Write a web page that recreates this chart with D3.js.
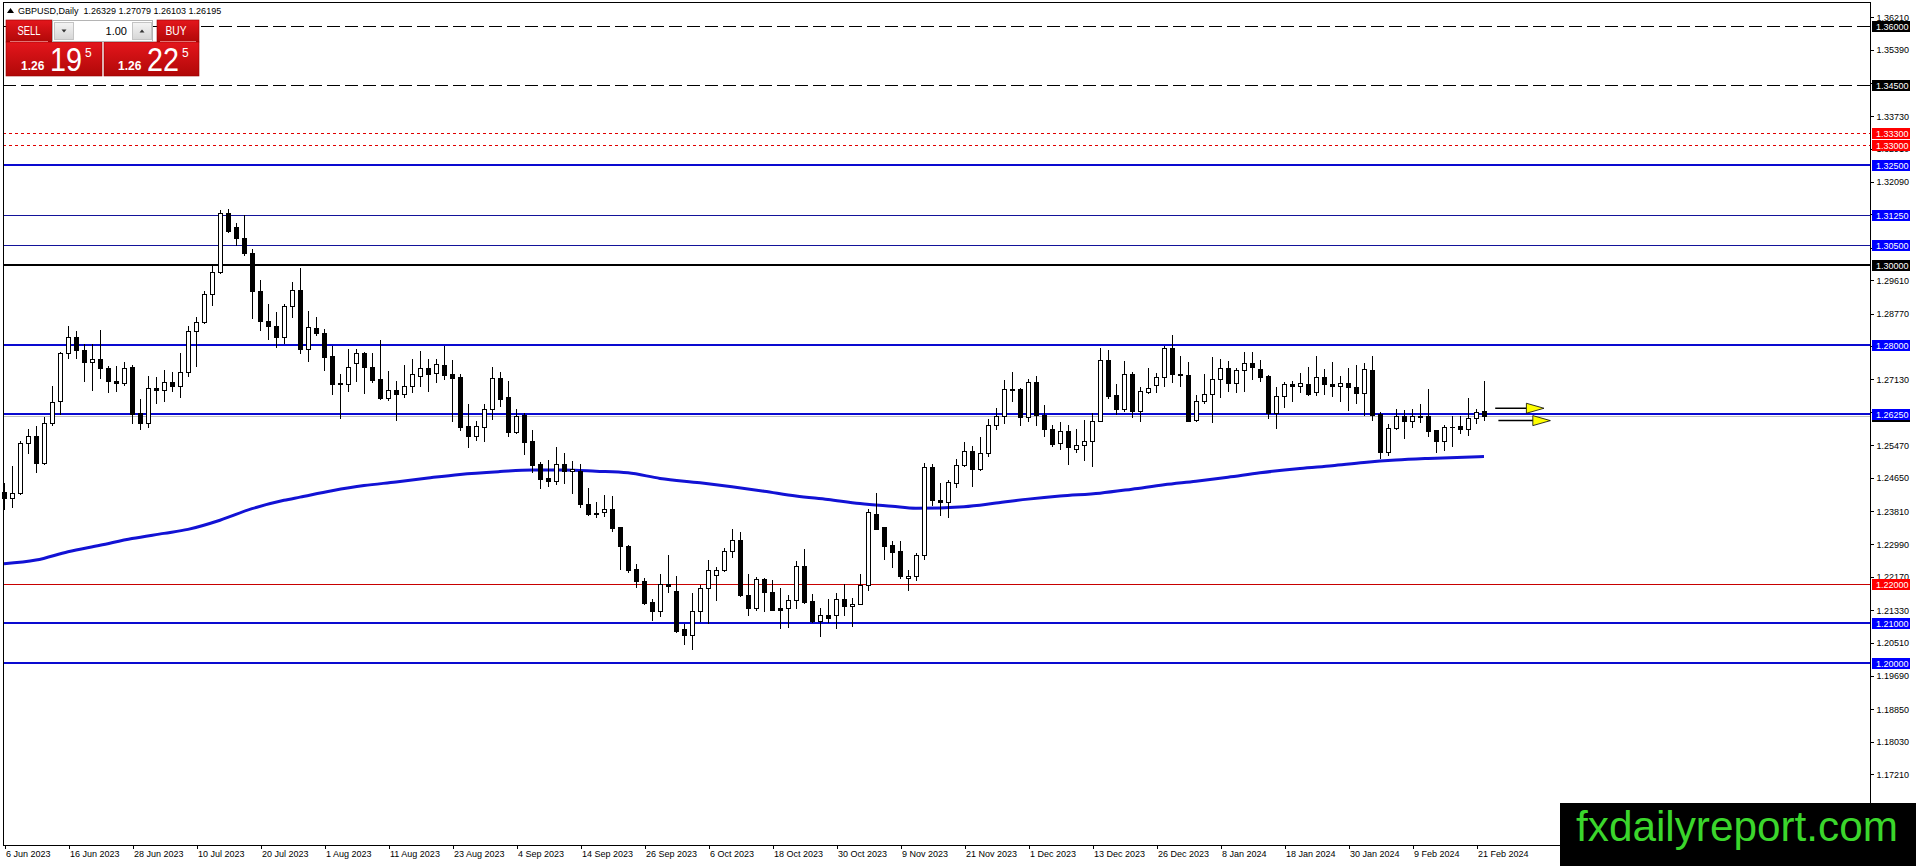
<!DOCTYPE html>
<html>
<head>
<meta charset="utf-8">
<title>GBPUSD Daily</title>
<script src="https://cdn.jsdelivr.net/npm/d3@7"></script>
<style>
    html, body { margin: 0; padding: 0; background: #fff; overflow: hidden; }
</style>
</head>
<body>
<div id="chart"></div>
<script>
// daily bars, 6 Jun 2023 .. 22 Feb 2024
const opens = [
    1.2430, 1.2416, 1.2428, 1.2552, 1.2571, 1.2503, 1.2604, 1.2657, 1.2778, 1.2818,
    1.2786, 1.2757, 1.2763, 1.2740, 1.2708, 1.2704, 1.2743, 1.2627, 1.2604, 1.2690,
    1.2685, 1.2707, 1.2697, 1.2732, 1.2833, 1.2856, 1.2926, 1.2981, 1.3129, 1.3094,
    1.3067, 1.3029, 1.2933, 1.2860, 1.2846, 1.2818, 1.2897, 1.2937, 1.2788, 1.2841,
    1.2828, 1.2771, 1.2701, 1.2702, 1.2753, 1.2778, 1.2743, 1.2713, 1.2666, 1.2687,
    1.2677, 1.2697, 1.2722, 1.2741, 1.2728, 1.2749, 1.2726, 1.2718, 1.2595, 1.2571,
    1.2594, 1.2637, 1.2715, 1.2668, 1.2581, 1.2622, 1.2557, 1.2499, 1.2465, 1.2458,
    1.2501, 1.2483, 1.2483, 1.2401, 1.2376, 1.2380, 1.2388, 1.2341, 1.2295, 1.2237,
    1.2207, 1.2155, 1.2130, 1.2198, 1.2182, 1.2085, 1.2070, 1.2131, 1.2189, 1.2221,
    1.2234, 1.2283, 1.2310, 1.2172, 1.2139, 1.2212, 1.2180, 1.2138, 1.2139, 1.2158,
    1.2244, 1.2156, 1.2106, 1.2120, 1.2120, 1.2161, 1.2143, 1.2149, 1.2197, 1.2375,
    1.2341, 1.2296, 1.2281, 1.2214, 1.2218, 1.2272, 1.2492, 1.2410, 1.2405, 1.2452,
    1.2497, 1.2532, 1.2487, 1.2527, 1.2597, 1.2621, 1.2688, 1.2688, 1.2618, 1.2706,
    1.2624, 1.2588, 1.2552, 1.2584, 1.2537, 1.2548, 1.2557, 1.2609, 1.2760, 1.2674,
    1.2639, 1.2726, 1.2632, 1.2682, 1.2699, 1.2718, 1.2791, 1.2726, 1.2723, 1.2611,
    1.2657, 1.2676, 1.2713, 1.2740, 1.2703, 1.2736, 1.2753, 1.2738, 1.2721, 1.2629,
    1.2671, 1.2700, 1.2696, 1.2700, 1.2682, 1.2718, 1.2700, 1.2696, 1.2703, 1.2693,
    1.2679, 1.2736, 1.2625, 1.2529, 1.2590, 1.2621, 1.2609, 1.2617, 1.2621, 1.2585,
    1.2559, 1.2593, 1.2596, 1.2587, 1.2615, 1.26329
];
const highs = [
    1.2453, 1.2496, 1.2558, 1.2587, 1.2595, 1.2619, 1.2696, 1.2780, 1.2846, 1.2833,
    1.2801, 1.2801, 1.2836, 1.2746, 1.2746, 1.2755, 1.2748, 1.2662, 1.2722, 1.2719,
    1.2736, 1.2731, 1.2778, 1.2846, 1.2868, 1.2933, 1.2997, 1.3138, 1.3139, 1.3106,
    1.3125, 1.3039, 1.2962, 1.2901, 1.2881, 1.2902, 1.2958, 1.2991, 1.2884, 1.2868,
    1.2838, 1.2796, 1.2726, 1.2789, 1.2788, 1.2781, 1.2778, 1.2811, 1.2734, 1.2709,
    1.2748, 1.2763, 1.2784, 1.2763, 1.2763, 1.2797, 1.2761, 1.2726, 1.2650, 1.2608,
    1.2650, 1.2744, 1.2730, 1.2708, 1.2637, 1.2627, 1.2585, 1.2506, 1.2510, 1.2543,
    1.2528, 1.2507, 1.2501, 1.2441, 1.2405, 1.2423, 1.2420, 1.2343, 1.2296, 1.2250,
    1.2214, 1.2162, 1.2225, 1.2271, 1.2220, 1.2098, 1.2177, 1.2196, 1.2260, 1.2242,
    1.2290, 1.2338, 1.2330, 1.2225, 1.2217, 1.2215, 1.2208, 1.2190, 1.2171, 1.2257,
    1.2288, 1.2175, 1.2139, 1.2161, 1.2176, 1.2198, 1.2164, 1.2225, 1.2387, 1.2428,
    1.2342, 1.2307, 1.2306, 1.2234, 1.2278, 1.2502, 1.2501, 1.2452, 1.2460, 1.2512,
    1.2555, 1.2546, 1.2569, 1.2613, 1.2640, 1.2711, 1.2731, 1.2690, 1.2713, 1.2721,
    1.2649, 1.2598, 1.2606, 1.2598, 1.2588, 1.2611, 1.2629, 1.2791, 1.2785, 1.2701,
    1.2759, 1.2731, 1.2693, 1.2741, 1.2728, 1.2797, 1.2824, 1.2770, 1.2756, 1.2674,
    1.2726, 1.2768, 1.2763, 1.2759, 1.2740, 1.2780, 1.2782, 1.2761, 1.2724, 1.2693,
    1.2707, 1.2709, 1.2728, 1.2743, 1.2771, 1.2738, 1.2755, 1.2722, 1.2740, 1.2749,
    1.2754, 1.2770, 1.2631, 1.2601, 1.2638, 1.2636, 1.2637, 1.2651, 1.2688, 1.2586,
    1.2598, 1.2621, 1.2621, 1.2665, 1.2638, 1.27079
];
const lows = [
    1.2386, 1.2391, 1.2425, 1.2528, 1.2481, 1.2501, 1.2597, 1.2625, 1.2765, 1.2765,
    1.2709, 1.2687, 1.2715, 1.2681, 1.2683, 1.2698, 1.2602, 1.2587, 1.2593, 1.2654,
    1.2658, 1.2683, 1.2669, 1.2721, 1.2746, 1.2853, 1.2899, 1.2979, 1.3083, 1.3050,
    1.3025, 1.2866, 1.2836, 1.2813, 1.2793, 1.2805, 1.2870, 1.2778, 1.2759, 1.2824,
    1.2736, 1.2676, 1.2616, 1.2684, 1.2709, 1.2679, 1.2707, 1.2663, 1.2660, 1.2610,
    1.2669, 1.2681, 1.2696, 1.2684, 1.2707, 1.2713, 1.2609, 1.2585, 1.2543, 1.2560,
    1.2558, 1.2614, 1.2645, 1.2571, 1.2578, 1.2524, 1.2480, 1.2440, 1.2444, 1.2451,
    1.2453, 1.2428, 1.2391, 1.2372, 1.2367, 1.2370, 1.2331, 1.2236, 1.2229, 1.2192,
    1.2148, 1.2108, 1.2118, 1.2179, 1.2078, 1.2049, 1.2035, 1.2105, 1.2102, 1.2160,
    1.2231, 1.2267, 1.2168, 1.2120, 1.2133, 1.2130, 1.2134, 1.2088, 1.2091, 1.2140,
    1.2151, 1.2104, 1.2068, 1.2104, 1.2088, 1.2120, 1.2093, 1.2148, 1.2183, 1.2336,
    1.2261, 1.2242, 1.2213, 1.2184, 1.2209, 1.2261, 1.2398, 1.2371, 1.2368, 1.2442,
    1.2494, 1.2444, 1.2485, 1.2519, 1.2587, 1.2603, 1.2659, 1.2599, 1.2609, 1.2599,
    1.2571, 1.2546, 1.2537, 1.2500, 1.2529, 1.2509, 1.2496, 1.2607, 1.2665, 1.2626,
    1.2634, 1.2619, 1.2607, 1.2678, 1.2680, 1.2695, 1.2707, 1.2696, 1.2607, 1.2609,
    1.2652, 1.2606, 1.2669, 1.2684, 1.2682, 1.2684, 1.2713, 1.2709, 1.2615, 1.2591,
    1.2644, 1.2657, 1.2682, 1.2673, 1.2673, 1.2676, 1.2671, 1.2657, 1.2636, 1.2654,
    1.2623, 1.2611, 1.2514, 1.2523, 1.2588, 1.2565, 1.2594, 1.2606, 1.2570, 1.2531,
    1.2535, 1.2545, 1.2579, 1.2573, 1.2602, 1.26103
];
const closes = [
    1.2416, 1.2428, 1.2552, 1.2571, 1.2503, 1.2604, 1.2655, 1.2778, 1.2818, 1.2786,
    1.2757, 1.2763, 1.2740, 1.2709, 1.2704, 1.2740, 1.2625, 1.2604, 1.2690, 1.2685,
    1.2707, 1.2697, 1.2732, 1.2833, 1.2856, 1.2926, 1.2981, 1.3129, 1.3086, 1.3067,
    1.3029, 1.2933, 1.2860, 1.2847, 1.2818, 1.2897, 1.2937, 1.2788, 1.2843, 1.2828,
    1.2769, 1.2702, 1.2704, 1.2743, 1.2778, 1.2743, 1.2711, 1.2666, 1.2687, 1.2676,
    1.2697, 1.2726, 1.2741, 1.2726, 1.2750, 1.2723, 1.2717, 1.2594, 1.2570, 1.2595,
    1.2637, 1.2715, 1.2664, 1.2580, 1.2620, 1.2556, 1.2497, 1.2463, 1.2458, 1.2501,
    1.2483, 1.2487, 1.2399, 1.2374, 1.2374, 1.2388, 1.2340, 1.2294, 1.2233, 1.2206,
    1.2152, 1.2130, 1.2198, 1.2193, 1.2080, 1.2070, 1.2131, 1.2189, 1.2234, 1.2234,
    1.2283, 1.2310, 1.2171, 1.2139, 1.2212, 1.2179, 1.2135, 1.2135, 1.2158, 1.2244,
    1.2154, 1.2105, 1.2120, 1.2114, 1.2161, 1.2143, 1.2149, 1.2197, 1.2380, 1.2338,
    1.2294, 1.2279, 1.2218, 1.2219, 1.2272, 1.2492, 1.2409, 1.2405, 1.2455, 1.2497,
    1.2532, 1.2487, 1.2527, 1.2597, 1.2621, 1.2688, 1.2686, 1.2618, 1.2706, 1.2624,
    1.2588, 1.2551, 1.2584, 1.2542, 1.2548, 1.2557, 1.2609, 1.2760, 1.2671, 1.2639,
    1.2726, 1.2632, 1.2684, 1.2690, 1.2718, 1.2791, 1.2726, 1.2723, 1.2609, 1.2657,
    1.2676, 1.2713, 1.2740, 1.2703, 1.2736, 1.2753, 1.2744, 1.2719, 1.2629, 1.2671,
    1.2700, 1.2697, 1.2703, 1.2677, 1.2718, 1.2700, 1.2696, 1.2703, 1.2693, 1.2679,
    1.2738, 1.2623, 1.2529, 1.2590, 1.2621, 1.2609, 1.2621, 1.2621, 1.2584, 1.2559,
    1.2592, 1.2592, 1.2587, 1.2615, 1.2630, 1.26195
];

// moving average, sampled along the blue curve (bar index, price)
const maBars = [0, 4, 8, 12, 16, 20, 23, 27, 31, 35, 37, 41, 45, 49, 53, 57, 62, 66, 70, 74,
    78, 82, 87, 91, 95, 99, 103, 107, 111, 114, 120, 124, 128, 132, 137, 141, 145, 149, 153,
    157, 162, 166, 170, 174, 178, 185];
const maValues = [1.2250, 1.2259, 1.2280, 1.2296, 1.2313, 1.2326, 1.2336, 1.2359, 1.2388, 1.2409,
    1.2417, 1.2433, 1.2446, 1.2455, 1.2465, 1.2474, 1.2481, 1.2485, 1.2485, 1.2482,
    1.2478, 1.2464, 1.2453, 1.2443, 1.2432, 1.2420, 1.2411, 1.2401, 1.2394, 1.2389,
    1.2393, 1.2402, 1.2412, 1.2420, 1.2427, 1.2437, 1.2448, 1.2457, 1.2467,
    1.2478, 1.2489, 1.2496, 1.2504, 1.2510, 1.2514, 1.2519];

// one date label every 8 bars
const dateLabels = ['6 Jun 2023', '16 Jun 2023', '28 Jun 2023', '10 Jul 2023', '20 Jul 2023',
    '1 Aug 2023', '11 Aug 2023', '23 Aug 2023', '4 Sep 2023', '14 Sep 2023', '26 Sep 2023',
    '6 Oct 2023', '18 Oct 2023', '30 Oct 2023', '9 Nov 2023', '21 Nov 2023', '1 Dec 2023',
    '13 Dec 2023', '26 Dec 2023', '8 Jan 2024', '18 Jan 2024', '30 Jan 2024', '9 Feb 2024',
    '21 Feb 2024'];
const labelStep = 8;

const priceTicks = [1.36210, 1.35390, 1.34570, 1.33730, 1.32910, 1.32090, 1.31270, 1.30430,
    1.29610, 1.28770, 1.27950, 1.27130, 1.26310, 1.25470, 1.24650, 1.23810, 1.22990, 1.22170,
    1.21330, 1.20510, 1.19690, 1.18850, 1.18030, 1.17210];

// horizontal levels drawn on the chart
const levelPrices = [1.36, 1.345, 1.333, 1.33, 1.325, 1.3125, 1.305, 1.30, 1.28, 1.2625, 1.22, 1.21, 1.20];
const levelKinds = ['dash', 'dash', 'dot', 'dot', 'blue', 'blueThin', 'blueThin', 'black', 'blue', 'blue', 'red', 'blue', 'blue'];

const bidPrice = 1.26195;
const sellQuote = ['1.26', '19', '5'];
const buyQuote = ['1.26', '22', '5'];
const arrowPrices = [1.2640, 1.2609];

const width = 1916;
const height = 866;
const plotLeft = 3;
const plotRight = 1870;
const plotTop = 2;
const plotBottom = 845;
const font = '"Liberation Sans", Arial, sans-serif';

const levelStyle = {
    dash: { stroke: '#000000', width: 1, dash: '13,5', box: '#000000' },
    dot: { stroke: '#e00000', width: 1, dash: '3,3', box: '#ff0000' },
    blue: { stroke: '#0a0ad0', width: 2, dash: null, box: '#0000ff' },
    blueThin: { stroke: '#13139a', width: 1, dash: null, box: '#0000ff' },
    black: { stroke: '#000000', width: 2, dash: null, box: '#000000' },
    red: { stroke: '#c80000', width: 1, dash: null, box: '#ff0000' }
};

const x = d3.scaleLinear().domain([0, 185]).range([4, 4 + 8 * 185]);
const y = d3.scaleLinear().domain([1.20, 1.36]).range([663.3, 25.7]);

const svg = d3.select('#chart').append('svg')
    .attr('width', width)
    .attr('height', height)
    .style('display', 'block')
    .style('font-family', font);

svg.append('rect')
    .attr('width', width)
    .attr('height', height)
    .attr('fill', '#ffffff');

const defs = svg.append('defs');
const redGrad = defs.append('linearGradient')
    .attr('id', 'red-grad')
    .attr('x1', 0).attr('y1', 0).attr('x2', 0).attr('y2', 1);
redGrad.append('stop').attr('offset', '0%').attr('stop-color', '#e4161c');
redGrad.append('stop').attr('offset', '100%').attr('stop-color', '#b00808');
const greyGrad = defs.append('linearGradient')
    .attr('id', 'grey-grad')
    .attr('x1', 0).attr('y1', 0).attr('x2', 0).attr('y2', 1);
greyGrad.append('stop').attr('offset', '0%').attr('stop-color', '#f4f4f4');
greyGrad.append('stop').attr('offset', '100%').attr('stop-color', '#d6d6d6');


// LEVEL LINES
const levelGroup = svg.append('g').attr('shape-rendering', 'crispEdges');

function levelY(price, lineWidth) {
    const py = Math.round(y(price));
    return lineWidth % 2 === 1 ? py + 0.5 : py;
}

levelPrices.forEach((p, idx) => {
    const st = levelStyle[levelKinds[idx]];
    levelGroup.append('line')
        .attr('x1', plotLeft)
        .attr('x2', plotRight)
        .attr('y1', levelY(p, st.width))
        .attr('y2', levelY(p, st.width))
        .attr('stroke', st.stroke)
        .attr('stroke-width', st.width)
        .attr('stroke-dasharray', st.dash);
});

// bid line
levelGroup.append('line')
    .attr('x1', plotLeft)
    .attr('x2', plotRight)
    .attr('y1', levelY(bidPrice, 1))
    .attr('y2', levelY(bidPrice, 1))
    .attr('stroke', '#c0c0c0');


// MOVING AVERAGE
const maLine = d3.line()
    .x(d => x(d[0]))
    .y(d => y(d[1]))
    .curve(d3.curveMonotoneX);

svg.append('path')
    .datum(maBars.map((b, i) => [b, maValues[i]]))
    .attr('d', maLine)
    .attr('fill', 'none')
    .attr('stroke', '#1212d4')
    .attr('stroke-width', 3)
    .attr('stroke-linejoin', 'round');


// CANDLES
const bars = opens.map((o, i) => ({ i: i, o: o, h: highs[i], l: lows[i], c: closes[i] }));
const candleGroup = svg.append('g').attr('shape-rendering', 'crispEdges');

bars.forEach(d => {
    const cx = Math.round(x(d.i));
    const top = Math.round(y(d.h));
    const bottom = Math.round(y(d.l));
    candleGroup.append('line')
        .attr('x1', cx + 0.5).attr('x2', cx + 0.5)
        .attr('y1', top).attr('y2', bottom + 1)
        .attr('stroke', '#000');

    const bodyTop = Math.round(y(Math.max(d.o, d.c)));
    const bodyBottom = Math.round(y(Math.min(d.o, d.c)));
    if (bodyBottom - bodyTop < 1) {
        candleGroup.append('line')
            .attr('x1', cx - 2).attr('x2', cx + 3)
            .attr('y1', bodyTop + 0.5).attr('y2', bodyTop + 0.5)
            .attr('stroke', '#000');
    } else {
        candleGroup.append('rect')
            .attr('x', cx - 1.5)
            .attr('y', bodyTop + 0.5)
            .attr('width', 4)
            .attr('height', bodyBottom - bodyTop)
            .attr('fill', d.c >= d.o ? '#ffffff' : '#000000')
            .attr('stroke', '#000');
    }
});


// ARROWS next to the last bar
const arrowStart = [186.4, 186.8];
const arrowHead = [190.3, 191.1];
const arrowTip = [192.5, 193.3];
arrowPrices.forEach((p, k) => {
    const ay = y(p);
    svg.append('line')
        .attr('x1', x(arrowStart[k])).attr('x2', x(arrowHead[k]))
        .attr('y1', ay).attr('y2', ay)
        .attr('stroke', '#000')
        .attr('stroke-width', 1.5);
    svg.append('path')
        .attr('d', 'M' + x(arrowHead[k]) + ',' + (ay - 5) + 'L' + x(arrowTip[k]) + ',' + ay +
            'L' + x(arrowHead[k]) + ',' + (ay + 5) + 'Z')
        .attr('fill', '#ffff00')
        .attr('stroke', '#000')
        .attr('stroke-width', 0.8)
        .attr('stroke-linejoin', 'round');
});


// FRAME + AXES
const frame = svg.append('g').attr('shape-rendering', 'crispEdges');
frame.append('path')
    .attr('d', 'M' + (plotLeft + 0.5) + ',' + plotBottom + 'V' + (plotTop + 0.5) + 'H' + (plotRight + 0.5) +
        'V' + (plotBottom + 0.5) + 'H' + (plotLeft + 0.5) + 'Z')
    .attr('fill', 'none')
    .attr('stroke', '#000');

const rightAxis = d3.axisRight(y)
    .tickValues(priceTicks)
    .tickFormat(d3.format('.5f'))
    .tickSize(3)
    .tickPadding(3);

svg.append('g')
    .attr('transform', 'translate(' + (plotRight + 0.5) + ',0)')
    .call(rightAxis)
    .call(g => g.select('.domain').remove())
    .call(g => g.selectAll('line').attr('shape-rendering', 'crispEdges'))
    .call(g => g.selectAll('text')
        .attr('fill', '#000')
        .style('font-family', font)
        .style('font-size', '9px'));

const bottomAxis = d3.axisBottom(x)
    .tickValues(dateLabels.map((_, i) => i * labelStep))
    .tickFormat((_, i) => dateLabels[i])
    .tickSize(3)
    .tickPadding(2);

svg.append('g')
    .attr('transform', 'translate(0.5,' + (plotBottom + 0.5) + ')')
    .call(bottomAxis)
    .call(g => g.select('.domain').remove())
    .call(g => g.selectAll('line').attr('shape-rendering', 'crispEdges'))
    .call(g => g.selectAll('text')
        .attr('text-anchor', 'start')
        .attr('x', 1)
        .attr('fill', '#000')
        .style('font-family', font)
        .style('font-size', '9px'));


// PRICE LABELS on the right scale
function addPriceLabel(price, fill) {
    const py = Math.round(y(price));
    svg.append('rect')
        .attr('x', plotRight + 2)
        .attr('y', py - 5)
        .attr('width', 38)
        .attr('height', 11)
        .attr('fill', fill)
        .attr('shape-rendering', 'crispEdges');
    svg.append('text')
        .attr('x', plotRight + 6)
        .attr('y', py + 3.5)
        .attr('fill', '#fff')
        .style('font-size', '9px')
        .text(d3.format('.5f')(price));
}

addPriceLabel(bidPrice, '#000000');
levelPrices.forEach((p, idx) => addPriceLabel(p, levelStyle[levelKinds[idx]].box));


// TITLE
svg.append('path')
    .attr('d', 'M7,13L10.5,8L14,13Z')
    .attr('fill', '#000');
svg.append('text')
    .attr('x', 18)
    .attr('y', 14)
    .attr('fill', '#000')
    .style('font-size', '9px')
    .attr('xml:space', 'preserve')
    .text('GBPUSD,Daily  ' + [opens[185], highs[185], lows[185], closes[185]].map(d3.format('.5f')).join(' '));


// ONE-CLICK TRADING PANEL
const panel = svg.append('g');

function redBox(px, py, w, h) {
    panel.append('rect')
        .attr('x', px).attr('y', py)
        .attr('width', w).attr('height', h)
        .attr('fill', 'url(#red-grad)')
        .attr('stroke', '#9a0000')
        .attr('stroke-width', 0.6);
}

redBox(6, 20, 46, 22);
redBox(157, 20, 42, 22);
redBox(6, 42, 96, 34);
redBox(104, 42, 95, 34);

[[10, 48], [160, 196]].forEach(seg => {
    panel.append('line')
        .attr('x1', seg[0]).attr('x2', seg[1])
        .attr('y1', 41.5).attr('y2', 41.5)
        .attr('stroke', '#f09090')
        .attr('stroke-width', 0.8);
});

panel.append('text')
    .attr('x', 29).attr('y', 35)
    .attr('text-anchor', 'middle')
    .attr('fill', '#fff')
    .attr('textLength', 23)
    .attr('lengthAdjust', 'spacingAndGlyphs')
    .style('font-size', '12px')
    .text('SELL');
panel.append('text')
    .attr('x', 176).attr('y', 35)
    .attr('text-anchor', 'middle')
    .attr('fill', '#fff')
    .attr('textLength', 21)
    .attr('lengthAdjust', 'spacingAndGlyphs')
    .style('font-size', '12px')
    .text('BUY');

// lot size box
panel.append('rect')
    .attr('x', 52.5).attr('y', 20.5)
    .attr('width', 100).attr('height', 21)
    .attr('fill', '#ffffff')
    .attr('stroke', '#b4b4b4');
[54, 132].forEach(bx => {
    panel.append('rect')
        .attr('x', bx + 0.5).attr('y', 22.5)
        .attr('width', 19).attr('height', 17)
        .attr('fill', 'url(#grey-grad)')
        .attr('stroke', '#c4c4c4');
});
panel.append('path').attr('d', 'M61.5,29.5L66.5,29.5L64,32.5Z').attr('fill', '#333');
panel.append('path').attr('d', 'M139.5,32.5L144.5,32.5L142,29.5Z').attr('fill', '#333');
panel.append('text')
    .attr('x', 127).attr('y', 35)
    .attr('text-anchor', 'end')
    .attr('fill', '#000')
    .style('font-size', '11px')
    .text('1.00');

function quote(parts, px) {
    panel.append('text')
        .attr('x', px).attr('y', 70)
        .attr('fill', '#fff')
        .style('font-size', '12px')
        .style('font-weight', 'bold')
        .text(parts[0]);
    panel.append('text')
        .attr('x', px + 29).attr('y', 71)
        .attr('fill', '#fff')
        .attr('textLength', 32)
        .attr('lengthAdjust', 'spacingAndGlyphs')
        .style('font-size', '33px')
        .style('font-weight', '300')
        .text(parts[1]);
    panel.append('text')
        .attr('x', px + 64).attr('y', 57)
        .attr('fill', '#fff')
        .style('font-size', '12px')
        .text(parts[2]);
}
quote(sellQuote, 21);
quote(buyQuote, 118);


// WATERMARK
svg.append('rect')
    .attr('x', 1560).attr('y', 803)
    .attr('width', width - 1560).attr('height', height - 803)
    .attr('fill', '#000');
svg.append('text')
    .attr('x', 1576).attr('y', 841)
    .attr('fill', '#3bd62c')
    .attr('textLength', 322)
    .attr('lengthAdjust', 'spacingAndGlyphs')
    .style('font-size', '42px')
    .text('fxdailyreport.com');
</script>
</body>
</html>
